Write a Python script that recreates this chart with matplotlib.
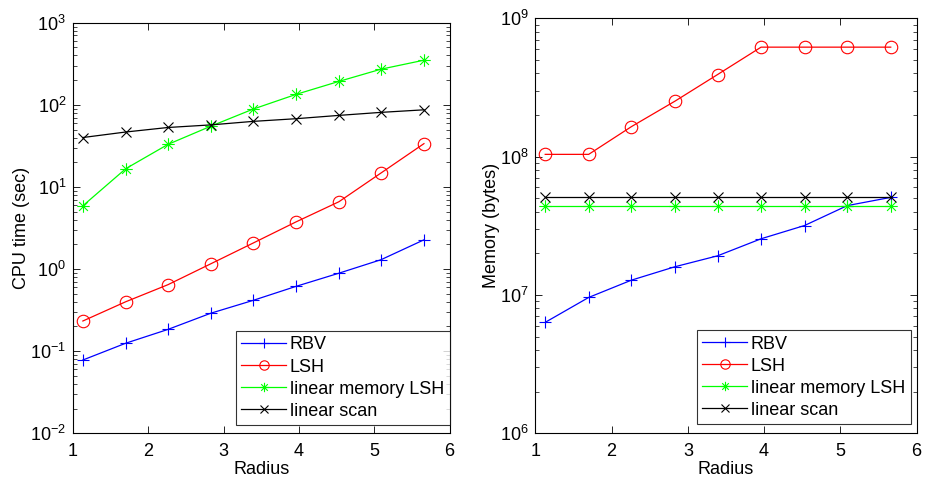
import numpy as np
import matplotlib
matplotlib.use("Agg")
import matplotlib.pyplot as plt
from matplotlib.path import Path

# --- data ---
radius = [1.13, 1.70, 2.26, 2.83, 3.39, 3.96, 4.53, 5.09, 5.66]
labels = ["RBV", "LSH", "linear memory LSH", "linear scan"]

cpu_rbv = [0.078, 0.125, 0.184, 0.29, 0.415, 0.615, 0.89, 1.30, 2.27]
cpu_lsh = [0.233, 0.40, 0.645, 1.16, 2.07, 3.75, 6.6, 14.8, 33.7]
cpu_linmem = [5.9, 16.7, 33.0, 55.0, 88.7, 134.0, 193.0, 272.0, 350.0]
cpu_scan = [40.0, 46.7, 53.0, 57.0, 62.9, 67.8, 74.4, 81.0, 87.0]

mem_rbv = [6.34e6, 9.6e6, 1.28e7, 1.6e7, 1.92e7, 2.55e7, 3.18e7, 4.43e7, 5.08e7]
mem_lsh = [1.04e8, 1.04e8, 1.65e8, 2.52e8, 3.93e8, 6.2e8, 6.2e8, 6.2e8, 6.2e8]
mem_linmem = [4.43e7] * 9
mem_scan = [5.08e7] * 9

# MATLAB-like asterisk: 8 spokes
d = np.sqrt(0.5)
star_verts = [(-1, 0), (1, 0), (0, -1), (0, 1), (-d, -d), (d, d), (-d, d), (d, -d)]
star_codes = [Path.MOVETO, Path.LINETO] * 4
asterisk = Path(star_verts, star_codes)

styles = [
    dict(color="#0000ff", marker="+", markersize=9, mew=0.8),
    dict(color="#ff0000", marker="o", markersize=9, mfc="none", mew=0.8),
    dict(color="#00ff00", marker=asterisk, markersize=9, mew=0.8),
    dict(color="#000000", marker="x", markersize=7, mew=0.8),
]

plt.rcParams["font.family"] = ["Liberation Sans", "DejaVu Sans"]
plt.rcParams["font.size"] = 13
plt.rcParams["mathtext.fontset"] = "custom"
plt.rcParams["mathtext.rm"] = "Liberation Sans"


def draw(ax, series, ylabel, ylim, leg_anchor):
    for vals, lab, st in zip(series, labels, styles):
        ax.plot(radius, vals, lw=0.9, label=lab, **st)
    ax.set_yscale("log")
    ax.set_xlim(1, 6)
    ax.set_ylim(*ylim)
    ax.set_xticks([1, 2, 3, 4, 5, 6])
    ax.set_xlabel("Radius", fontsize=13, labelpad=1)
    ax.set_ylabel(ylabel, fontsize=13, labelpad=0)
    ax.tick_params(which="both", direction="in", top=True, right=True, labelsize=13)
    ax.tick_params(which="major", length=5, width=0.6, pad=5)
    ax.tick_params(axis="x", which="major", pad=7)
    ax.tick_params(which="minor", length=3, width=0.5)
    for sp in ax.spines.values():
        sp.set_linewidth(0.8)
    leg = ax.legend(loc="lower right", bbox_to_anchor=leg_anchor, fontsize=13,
                    frameon=True, fancybox=False, edgecolor="black",
                    borderaxespad=0, handlelength=2.5, handletextpad=0.2,
                    borderpad=0.3, labelspacing=0.28, markerscale=0.75)
    leg.get_frame().set_linewidth(0.8)


fig = plt.figure(figsize=(9.25, 4.79), dpi=100)
ax1 = fig.add_axes([0.079, 0.0955, 0.407, 0.857])
ax2 = fig.add_axes([0.5787, 0.0955, 0.4123, 0.866])

draw(ax1, [cpu_rbv, cpu_lsh, cpu_linmem, cpu_scan], "CPU time (sec)", (1e-2, 1e3), (1.0, 0.02))
draw(ax2, [mem_rbv, mem_lsh, mem_linmem, mem_scan], "Memory (bytes)", (1e6, 1e9), (0.984, 0.022))

fig.savefig("out.png", dpi=100)
